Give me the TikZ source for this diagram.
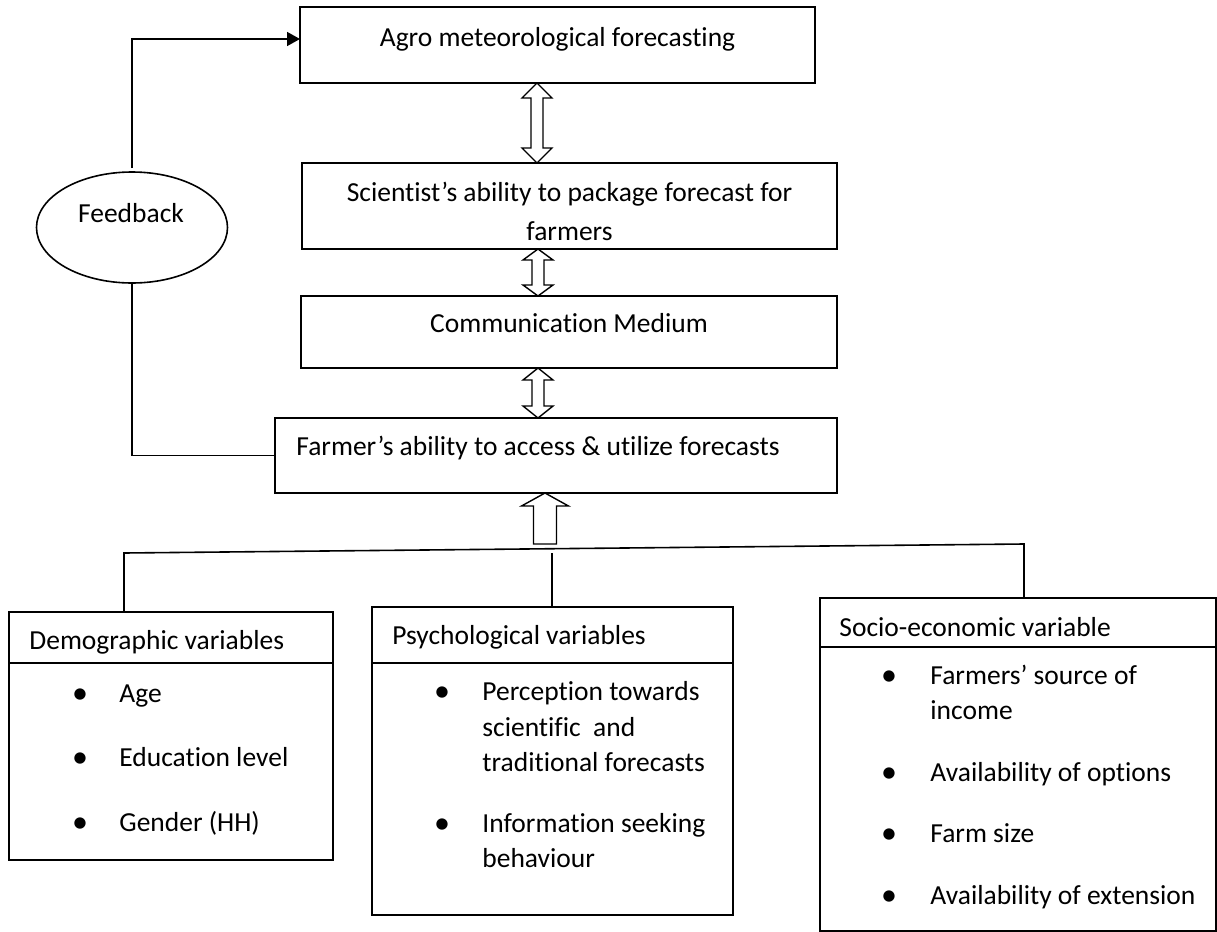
\documentclass[tikz,border=0pt]{standalone}
\usepackage{fontspec}
\setmainfont{Carlito}[Ligatures=CommonOff]
\usepackage{tikz}
\usetikzlibrary{arrows.meta,positioning,shapes.geometric,calc}

% hollow double-headed arrow between two points: top, bottom, head length
\newcommand{\hollowdbl}[3]{%
  \draw[hollow_arrow] (#1) -- ($(#1)+(15,#3)$) -- ($(#1)+(6,#3)$) -- ($(#2)+(6,-#3)$) -- ($(#2)+(15,-#3)$) -- (#2)
    -- ($(#2)+(-15,-#3)$) -- ($(#2)+(-6,-#3)$) -- ($(#1)+(-6,#3)$) -- ($(#1)+(-15,#3)$) -- cycle;}

\begin{document}
\begin{tikzpicture}[
    x=0.5pt, y=-0.5pt, >=Stealth,
    box_node/.style={rectangle, draw=black, line width=0.8pt, inner sep=0pt, outer sep=0pt, anchor=north west},
    oval_node/.style={ellipse, draw=black, line width=0.8pt, inner sep=0pt, outer sep=0pt, minimum width=95.5pt, minimum height=55.5pt},
    txt_lbl/.style={inner sep=0pt, font=\fontsize{13.75}{17.5}\selectfont},
    bullet_lbl/.style={inner sep=0pt, anchor=base, yshift=-0.8pt, font=\fontsize{16}{16}\selectfont},
    hollow_arrow/.style={draw=black, line width=0.7pt, line join=miter},
    link_line/.style={draw=black, line width=0.8pt}
]
    \useasboundingbox (0,0) rectangle (1217,932);

    % Chain boxes
    \node[box_node, minimum width=257.5pt, minimum height=38pt] (agro) at (300,7) {};
    \node[box_node, minimum width=267.5pt, minimum height=43pt] (sci) at (302,163) {};
    \node[box_node, minimum width=268pt, minimum height=36pt] (comm) at (301,296) {};
    \node[box_node, minimum width=281pt, minimum height=37.5pt] (farmer) at (275,418) {};
    \node[oval_node] (fb) at (132,227.5) {};

    \node[txt_lbl, anchor=base] at ([yshift=-19.5pt]agro.north) {Agro meteorological forecasting};
    \node[txt_lbl, anchor=base] at ([yshift=-19pt]sci.north) {Scientist’s ability to package forecast for};
    \node[txt_lbl, anchor=base] at ([yshift=-38.5pt]sci.north) {farmers};
    \node[txt_lbl, anchor=base] at ([yshift=-18pt]comm.north) {Communication Medium};
    \node[txt_lbl, anchor=base west] at ([xshift=10.5pt, yshift=-18.5pt]farmer.north west) {Farmer’s ability to access \& utilize forecasts};
    \node[txt_lbl, anchor=base] at ([xshift=-0.5pt, yshift=2.75pt]fb.center) {Feedback};

    % Variable boxes
    \node[box_node, minimum width=162pt, minimum height=124pt] (demo) at (9,612) {};
    \node[box_node, minimum width=180.5pt, minimum height=154pt] (psych) at (372,607) {};
    \node[box_node, minimum width=198pt, minimum height=166.5pt] (socio) at (820,598) {};

    \draw[link_line] ([yshift=-25.5pt]demo.north west) -- ([yshift=-25.5pt]demo.north east);
    \draw[link_line] ([yshift=-28pt]psych.north west) -- ([yshift=-28pt]psych.north east);
    \draw[link_line] ([yshift=-24.5pt]socio.north west) -- ([yshift=-24.5pt]socio.north east);

    \node[txt_lbl, anchor=base west] at ([xshift=10pt, yshift=-18.5pt]demo.north west) {Demographic variables};
    \node[txt_lbl, anchor=base west] at ([xshift=10pt, yshift=-18.5pt]psych.north west) {Psychological variables};
    \node[txt_lbl, anchor=base west] at ([xshift=9.5pt, yshift=-19pt]socio.north west) {Socio-economic variable};

    % Demographic items
    \node[bullet_lbl] at (80,702) {\textbullet};
    \node[txt_lbl, anchor=base west] at (119,702) {Age};
    \node[bullet_lbl] at (80,766) {\textbullet};
    \node[txt_lbl, anchor=base west] at (119,766) {Education level};
    \node[bullet_lbl] at (80,831) {\textbullet};
    \node[txt_lbl, anchor=base west] at (119,831) {Gender (HH)};

    % Psychological items
    \node[bullet_lbl] at (442,700) {\textbullet};
    \node[txt_lbl, anchor=base west] at (482,700) {Perception towards};
    \node[txt_lbl, anchor=base west] at (482,736) {scientific\ \ and};
    \node[txt_lbl, anchor=base west] at (482,771) {traditional forecasts};
    \node[bullet_lbl] at (442,832) {\textbullet};
    \node[txt_lbl, anchor=base west] at (482,832) {Information seeking};
    \node[txt_lbl, anchor=base west] at (482,867) {behaviour};

    % Socio-economic items
    \node[bullet_lbl] at (889,684) {\textbullet};
    \node[txt_lbl, anchor=base west] at (930,684) {Farmers’ source of};
    \node[txt_lbl, anchor=base west] at (930,719) {income};
    \node[bullet_lbl] at (889,781) {\textbullet};
    \node[txt_lbl, anchor=base west] at (930,781) {Availability of options};
    \node[bullet_lbl] at (889,842) {\textbullet};
    \node[txt_lbl, anchor=base west] at (930,842) {Farm size};
    \node[bullet_lbl] at (889,904) {\textbullet};
    \node[txt_lbl, anchor=base west] at (930,904) {Availability of extension};

    % Hollow arrows
    \coordinate (ax) at (537,0);
    \coordinate (bx) at (538,0);
    \coordinate (ux) at (545,0);
    \coordinate (a1t) at (agro.south -| ax);
    \coordinate (a1b) at (sci.north -| ax);
    \coordinate (a2t) at (sci.south -| bx);
    \coordinate (a2b) at (comm.north -| bx);
    \coordinate (a3t) at (comm.south -| bx);
    \coordinate (a3b) at (farmer.north -| bx);
    \hollowdbl{a1t}{a1b}{15}
    \hollowdbl{a2t}{a2b}{11}
    \hollowdbl{a3t}{a3b}{12}
    \draw[hollow_arrow] (farmer.south -| ux) -- +(23.5,13) -- +(11.5,13) -- +(11.5,51)
        -- +(-11.5,51) -- +(-11.5,13) -- +(-23.5,13) -- cycle;

    % Feedback loop
    \draw[link_line, -{Triangle[length=6.5pt, width=7pt]}] ([yshift=2pt]fb.north) |- ([yshift=3pt]agro.west);
    \draw[link_line] (fb.south) |- (farmer.west);

    % Variable links
    \coordinate (jl) at (124,553);
    \coordinate (jm) at (552,553);
    \coordinate (jr) at (1024,544);
    \draw[link_line] (demo.north -| jl) -- (jl) -- (jr) -- (socio.north -| jr);
    \draw[link_line] (jm) -- (psych.north -| jm);
\end{tikzpicture}
\end{document}
